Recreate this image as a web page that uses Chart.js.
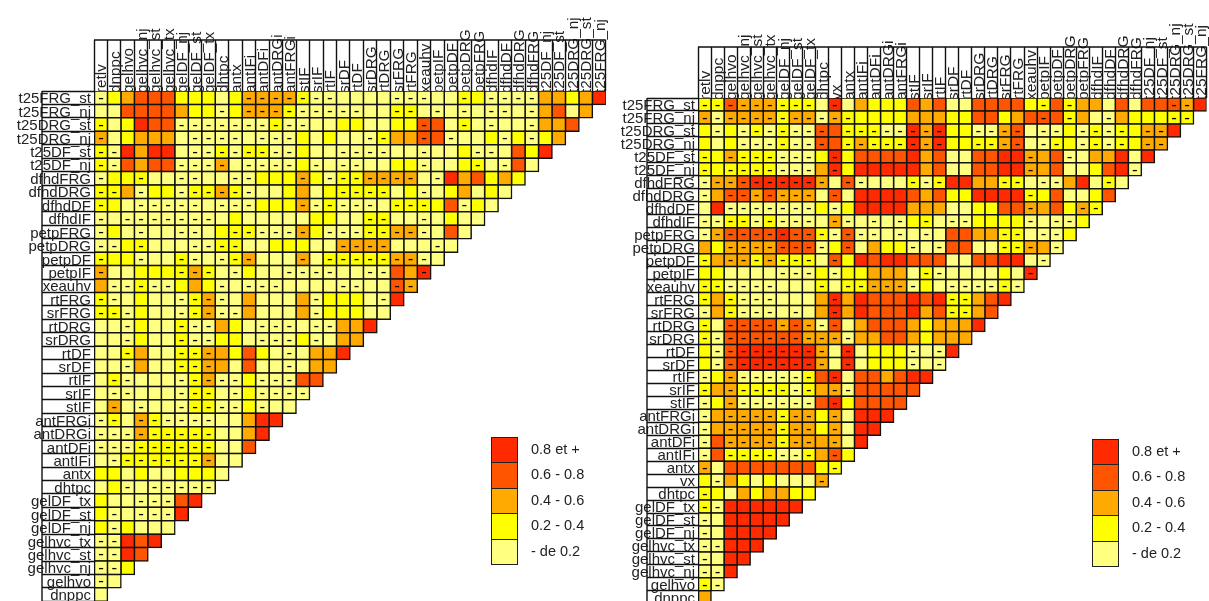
<!DOCTYPE html>
<html>
<head>
<meta charset="utf-8">
<title>Correlations</title>
<script src="https://cdn.jsdelivr.net/npm/chart.js@4"></script>
<style>
  html, body { margin: 0; padding: 0; background: #fff; width: 1209px; height: 601px; overflow: hidden; }
  canvas { position: absolute; top: 0; }
  #chart-left { left: 0; }
  #chart-right { left: 610px; }
  .legend { position: absolute; font-family: "Liberation Sans", Arial, sans-serif; font-size: 14.5px; color: #222; }
  .legend div { position: relative; height: 25.4px; line-height: 25.4px; padding-left: 40px; white-space: nowrap; }
  .legend i { position: absolute; left: 0; top: 0; width: 25px; height: 24.4px; border: 1px solid #222; }
</style>
</head>
<body>
<canvas id="chart-left" width="620" height="620"></canvas>
<canvas id="chart-right" width="599" height="620"></canvas>
<div class="legend" id="legend-left" style="left:491px;top:437px"></div>
<div class="legend" id="legend-right" style="left:1092px;top:439px"></div>
<script>
// ======= DATA =======
const leftColumns = ['retlv','dnppc','gelhvo','gelhvc_nj','gelhvc_st','gelhvc_tx','gelDF_nj','gelDF_st','gelDF_tx','dhtpc','antx','antIFi','antDFi','antDRGi','antFRGi','stIF','srIF','rtIF','srDF','rtDF','srDRG','rtDRG','srFRG','rtFRG','xeauhv','petpIF','petpDF','petpDRG','petpFRG','dfhdIF','dfhdDF','dfhdDRG','dfhdFRG','t25DF_nj','t25DF_st','t25DRG_nj','t25DRG_st','t25FRG_nj'];
const leftRows = ['t25FRG_st','t25FRG_nj','t25DRG_st','t25DRG_nj','t25DF_st','t25DF_nj','dfhdFRG','dfhdDRG','dfhdDF','dfhdIF','petpFRG','petpDRG','petpDF','petpIF','xeauhv','rtFRG','srFRG','rtDRG','srDRG','rtDF','srDF','rtIF','srIF','stIF','antFRGi','antDRGi','antDFi','antIFi','antx','dhtpc','gelDF_tx','gelDF_st','gelDF_nj','gelhvc_tx','gelhvc_st','gelhvc_nj','gelhvo','dnppc'];
const rightColumns = ['retlv','dnppc','gelhvo','gelhvc_nj','gelhvc_st','gelhvc_tx','gelDF_nj','gelDF_st','gelDF_tx','dhtpc','vx','antx','antIFi','antDFi','antDRGi','antFRGi','stIF','srIF','rtIF','srDF','rtDF','srDRG','rtDRG','srFRG','rtFRG','xeauhv','petpIF','petpDF','petpDRG','petpFRG','dfhdIF','dfhdDF','dfhdDRG','dfhdFRG','t25DF_nj','t25DF_st','t25DRG_nj','t25DRG_st','t25FRG_nj'];
const rightRows = ['t25FRG_st','t25FRG_nj','t25DRG_st','t25DRG_nj','t25DF_st','t25DF_nj','dfhdFRG','dfhdDRG','dfhdDF','dfhdIF','petpFRG','petpDRG','petpDF','petpIF','xeauhv','rtFRG','srFRG','rtDRG','srDRG','rtDF','srDF','rtIF','srIF','stIF','antFRGi','antDRGi','antDFi','antIFi','antx','vx','dhtpc','gelDF_tx','gelDF_st','gelDF_nj','gelhvc_tx','gelhvc_st','gelhvc_nj','gelhvo','dnppc'];

// one letter per cell: 0-4 = class of a positive correlation, a-e = same classes when negative
const leftCells = [
  'a1233311101ccccbaa0000aaa00b1aaaa22124',
  '003333211a1cccbaaaaa00bb0a0a0aa0a2302',
  'b01433aaaaaaabaa00110011d30b0a00a223',
  'c012220aaaa0aaa10100ab22d3a001a1a12',
  'ba42440aababbaa100aaaa00a001aa0314',
  'ba3233aaac0aaaa1a0aa0011a001b0a30',
  'a11b00aa00aa111c1abbcccc0a423121',
  'bb2a11abbcba001201bbbb01a012010',
  'b10aaaaa0aaa111cabaaa0bbb13a10',
  'a0aaaaaaa01000001100bb00a0100',
  'a10a00aa01bbaaac1aaabbcca030',
  'aa1b000aabb0011100cccc000a0',
  'b11a00ba0abc000c0bbbbbcca0',
  'c00111bcb0a100aaaa00aa32e',
  '2aabaa121a0aaa0000aa00dc',
  'ba0100abca020002a1110a4',
  'bba100abcaa20002a11100',
  '00a100baa210aaa0aa224',
  '00a100baa110aaa1a022',
  '00b200bbc21310a0224',
  '00a200bbc20300a022',
  '0ba000abcaa1aaa33',
  '0aa000abb0a1aaaa',
  '0c0a00abbaa1a00',
  'ab0cbaaaa00244',
  'aaacbbbbb0024',
  'aaabbbbbb003',
  '0abbbbbbc00',
  '1101001110',
  '01a0aaaaa',
  '100aaa34',
  '1a0aaa4',
  '1a1000',
  'aa434',
  'aa43',
  'aa1',
  'a0',
  '0'
];
const rightCells = [
  'bbdcccbbb0e021113230033331b3b2203033dc4',
  'caccccbccacb11112221133123d3b20a2111bb',
  '1a1ababaad3bbbaaece11aacd0aa1abab1cc4',
  '101aaabaad3bcbbbece11bbcd0ab1abab1cc',
  'b1cbbbaaa1e13333423003344c23a022404',
  'b1bbbbaaa2e14444423003344c2300134a',
  'accdeeeeec0da000bab4422bb0aa240b0',
  'a2ddcdccc0d04444323114444b130013',
  '04aaaaaaa1a14444222001133c231cb',
  'aabbabaaa0ca0a0a1b0aa1111a0aa1',
  'acddddeddbadaa0a0a03322bb0aa1',
  '21ccccddda1d0211a0a3300bbc2a',
  'b2ccbcbbb0d143443330033440a',
  '110000aaa1a112220ba000010e',
  'bbaaaa000b0bbccca10aaaaba',
  'b2baaa0002e24333434bb234',
  'a2baaa0a02e24333423bb23',
  'b0ddddcdcad02333212224',
  'baddddddccca223321222',
  '1adeeeeeec0e0111a0a4',
  '1adeeeeeec0e0111a0a',
  'a1caaaaab3e0332344',
  'b2cbbbbab2ca33333',
  'a1caaaaaa3e13333',
  'a2ccccbcc1c0444',
  'a2ccccbcc1c044',
  'a3ccccbcc2c04',
  'a3bbbbaab2d1',
  'c033333331b',
  '1a2101000c',
  'b10212211',
  'ba444444',
  'a044444',
  'a04444',
  'aa444',
  'a044',
  'aa4',
  'ba',
  '2'
];

const binColors = ['#ffff80', '#ffff00', '#ffaa00', '#ff5500', '#ff2a00'];
const legendLabels = ['0.8 et +', '0.6 - 0.8', '0.4 - 0.6', '0.2 - 0.4', '- de 0.2'];

const FONT = '"Liberation Sans", Arial, sans-serif';
const LINE = '#111';

const isNegative = code => code >= 'a';
const binOf = code => isNegative(code) ? code.charCodeAt(0) - 97 : Number(code);

// ======= PLUGINS =======
// header frame and the minus sign of the negative cells
const matrixExtras = {
  id: 'matrixExtras',
  afterDatasetsDraw(chart, args, opts) {
    const { ctx, chartArea } = chart;
    ctx.save();
    ctx.strokeStyle = LINE;
    ctx.lineWidth = 1.4;
    ctx.beginPath();
    ctx.moveTo(chartArea.left, chartArea.top - opts.headerHeight);
    ctx.lineTo(chartArea.right, chartArea.top - opts.headerHeight);
    ctx.moveTo(chartArea.left - opts.headerWidth, chartArea.top);
    ctx.lineTo(chartArea.left - opts.headerWidth, chartArea.bottom);
    ctx.stroke();

    ctx.fillStyle = '#000';
    ctx.font = '17px ' + FONT;
    ctx.textAlign = 'center';
    ctx.textBaseline = 'middle';
    chart.data.datasets.forEach((ds, c) => {
      chart.getDatasetMeta(c).data.forEach((bar, r) => {
        const code = opts.cells[r][c];
        if (code && isNegative(code)) {
          ctx.fillText('-', (bar.x + bar.base) / 2, bar.y + 0.5);
        }
      });
    });
    ctx.restore();
  }
};

// ======= CHARTS =======
function drawMatrix(canvasId, columns, rows, cells, box) {
  const datasets = columns.map((name, c) => ({
    label: name,
    data: rows.map((row, r) => c < cells[r].length ? [c, c + 1] : null),
    backgroundColor: rows.map((row, r) => c < cells[r].length ? binColors[binOf(cells[r][c])] : 'transparent')
  }));

  return new Chart(document.getElementById(canvasId), {
    type: 'bar',
    data: { labels: rows, datasets: datasets },
    plugins: [matrixExtras],
    options: {
      indexAxis: 'y',
      responsive: false,
      animation: false,
      events: [],
      datasets: {
        bar: {
          grouped: false,
          barPercentage: 1,
          categoryPercentage: 1,
          borderColor: LINE,
          borderWidth: 1.5,
          borderSkipped: false,
          inflateAmount: 0.75
        }
      },
      layout: { autoPadding: false, padding: { right: box.right, bottom: box.bottom } },
      plugins: {
        legend: { display: false },
        tooltip: { enabled: false },
        matrixExtras: { cells: cells, headerWidth: box.headerWidth, headerHeight: box.headerHeight }
      },
      scales: {
        x: {
          type: 'linear',
          position: 'top',
          min: 0,
          max: columns.length,
          afterBuildTicks: scale => {
            scale.ticks = columns.concat('').map((name, i) => ({ value: i }));
          },
          // the scale box runs to the canvas edge so the long labels are not clipped
          afterFit: scale => { scale.height = box.top; },
          border: { display: false },
          grid: { drawOnChartArea: false, tickLength: box.headerHeight, tickColor: LINE, tickWidth: 1.4 },
          ticks: {
            autoSkip: false,
            minRotation: 90,
            maxRotation: 90,
            padding: -box.headerHeight - 2,
            labelOffset: box.columnLabelOffset,
            color: '#222',
            font: { family: FONT, size: box.columnFont },
            callback: (value, i) => columns[i] || ''
          }
        },
        y: {
          type: 'category',
          afterFit: scale => { scale.width = box.left; },
          border: { display: false },
          grid: { drawOnChartArea: false, tickLength: box.headerWidth, tickColor: LINE, tickWidth: 1.4 },
          ticks: {
            autoSkip: false,
            padding: -box.headerWidth + 3,
            labelOffset: 1.5,
            color: '#222',
            font: { family: FONT, size: 15 }
          }
        }
      }
    }
  });
}

drawMatrix('chart-left', leftColumns, leftRows, leftCells, {
  left: 94, top: 91, right: 14.1, bottom: 18.7,
  headerWidth: 52, headerHeight: 51, columnLabelOffset: 26.6, columnFont: 15.3
});
drawMatrix('chart-right', rightColumns, rightRows, rightCells, {
  left: 88, top: 98, right: 2.4, bottom: 16.2,
  headerWidth: 51, headerHeight: 51, columnLabelOffset: 26.6, columnFont: 15.5
});

// ======= LEGENDS =======
['legend-left', 'legend-right'].forEach(id => {
  const box = document.getElementById(id);
  legendLabels.forEach((label, i) => {
    const item = document.createElement('div');
    const swatch = document.createElement('i');
    swatch.style.background = binColors[binColors.length - 1 - i];
    item.appendChild(swatch);
    item.appendChild(document.createTextNode(label));
    box.appendChild(item);
  });
});
</script>
</body>
</html>
